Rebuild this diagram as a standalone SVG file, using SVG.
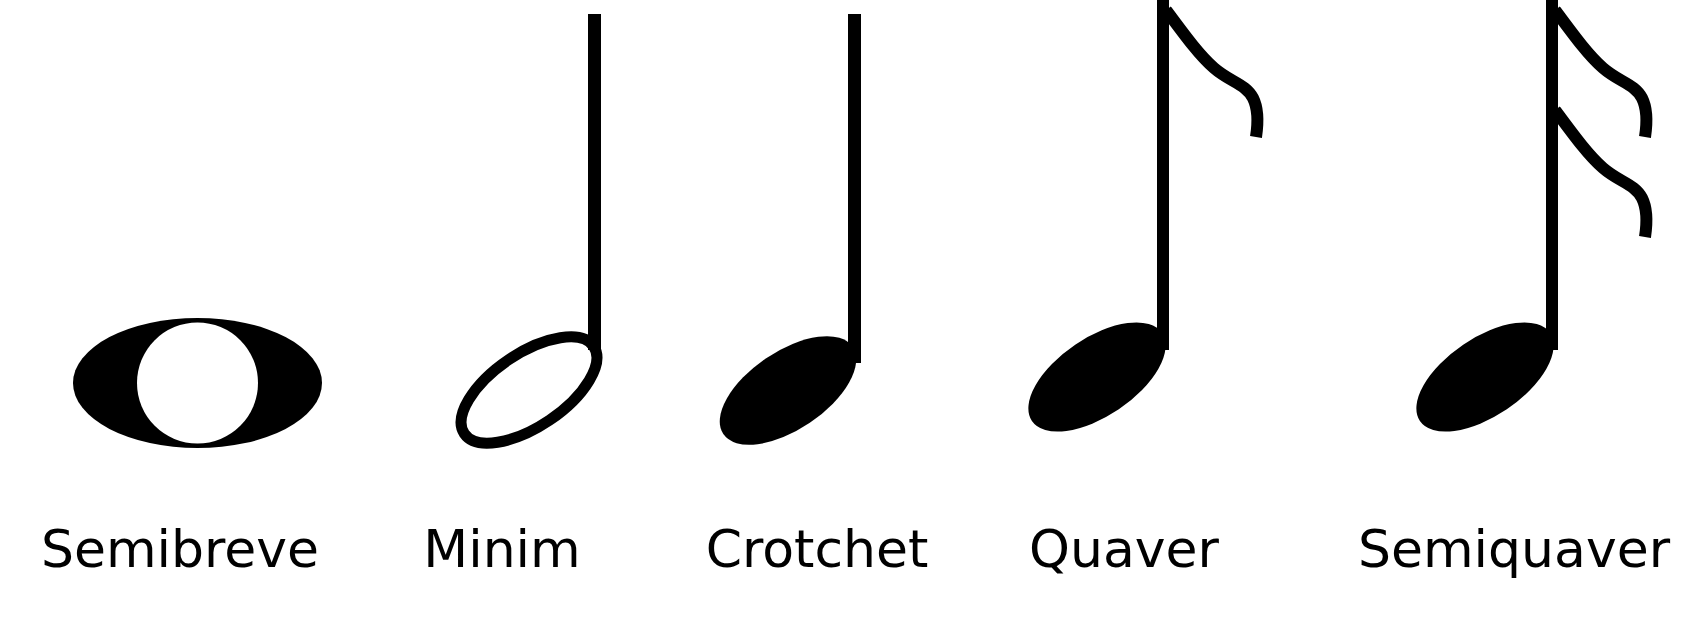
<svg xmlns="http://www.w3.org/2000/svg" width="1704" height="621" viewBox="0 0 1704 621">
<style>
.head{fill:#000}
.stem{fill:#000}
.flag{fill:none;stroke:#000;stroke-width:12}
.label{font-family:"DejaVu Sans","Liberation Sans",sans-serif;font-size:52px;fill:#000;text-anchor:middle}
</style>
<defs>
<path id="flag" class="flag" d="M 0 0 C 20 27, 34 46, 48 58 C 64 72, 80 74, 87 88 C 93 100, 92 114, 90 127"/>
</defs>
<rect width="1704" height="621" fill="#fff"/>
<g id="semibreve">
<ellipse cx="197.5" cy="383" rx="124.5" ry="65" class="head"/>
<circle cx="197.5" cy="383" r="60.5" fill="#fff"/>
<text class="label" x="180" y="567">Semibreve</text>
</g>
<g id="minim">
<ellipse cx="529" cy="390" rx="78" ry="36.5" transform="rotate(-34 529 390)" fill="none" stroke="#000" stroke-width="11"/>
<rect class="stem" x="588" y="14" width="13" height="336"/>
<text class="label" x="502" y="567">Minim</text>
</g>
<g id="crotchet">
<ellipse cx="788" cy="390.5" rx="78" ry="39" transform="rotate(-34 788 390.5)" class="head"/>
<rect class="stem" x="848" y="14" width="13" height="349"/>
<text class="label" x="817" y="567">Crotchet</text>
</g>
<g id="quaver">
<ellipse cx="1097" cy="377" rx="78.5" ry="39" transform="rotate(-34 1097 377)" class="head"/>
<rect class="stem" x="1157" y="0" width="12" height="350"/>
<use href="#flag" x="1166" y="10"/>
<text class="label" x="1124" y="567">Quaver</text>
</g>
<g id="semiquaver">
<ellipse cx="1485" cy="377" rx="78.5" ry="39" transform="rotate(-34 1485 377)" class="head"/>
<rect class="stem" x="1546" y="0" width="12" height="350"/>
<use href="#flag" x="1555" y="10"/>
<use href="#flag" x="1555" y="110"/>
<text class="label" x="1514" y="567">Semiquaver</text>
</g>
<g id="connectors"/>
</svg>
